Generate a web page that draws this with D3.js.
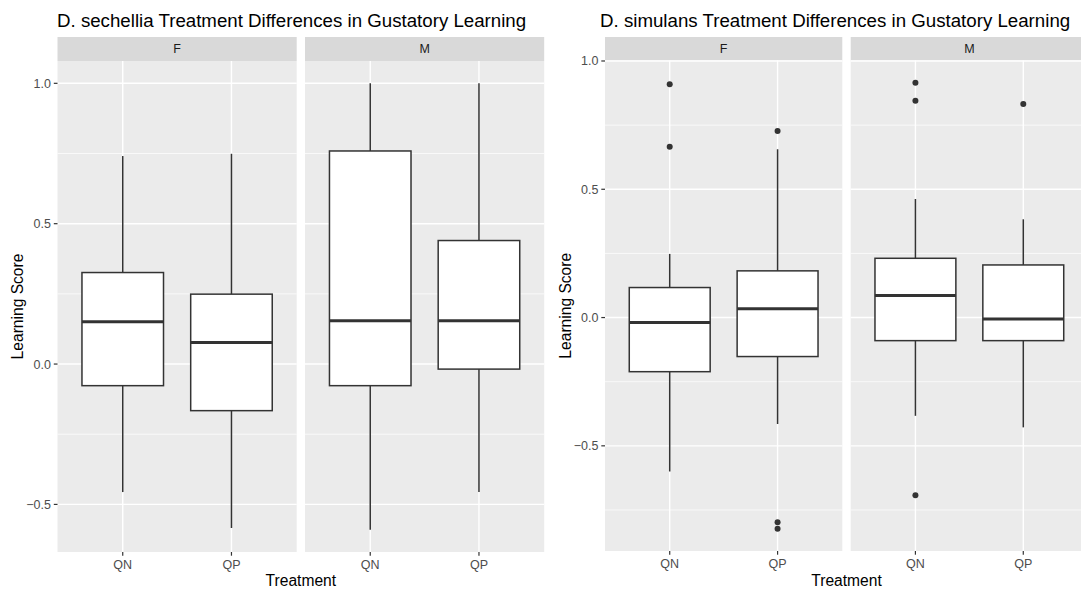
<!DOCTYPE html>
<html>
<head>
<meta charset="utf-8">
<script src="https://cdn.jsdelivr.net/npm/d3@7"></script>
<style>
  body { margin: 0; background: #fff; }
  svg { display: block; font-family: "Liberation Sans", Arial, Helvetica, sans-serif; }
</style>
</head>
<body>
<div id="chart"></div>
<script>
// facets / categories
const sexes = ['F', 'M']
const treatments = ['QN', 'QP']
// box order: F-QN, F-QP, M-QN, M-QP
const groups = [['F', 'QN'], ['F', 'QP'], ['M', 'QN'], ['M', 'QP']]

// D. sechellia box stats
const sechLow = [-0.456, -0.584, -0.590, -0.456]
const sechQ1 = [-0.077, -0.166, -0.077, -0.018]
const sechMedian = [0.151, 0.077, 0.154, 0.154]
const sechQ3 = [0.326, 0.249, 0.759, 0.440]
const sechHigh = [0.741, 0.749, 1.0, 1.0]
const sechOutliers = [[], [], [], []]

// D. simulans box stats
const simLow = [-0.600, -0.415, -0.383, -0.428]
const simQ1 = [-0.211, -0.152, -0.090, -0.090]
const simMedian = [-0.019, 0.034, 0.086, -0.006]
const simQ3 = [0.117, 0.182, 0.231, 0.205]
const simHigh = [0.248, 0.656, 0.462, 0.383]
const simOutliers = [[0.909, 0.666], [0.727, -0.798, -0.823], [0.915, 0.845, -0.693], [0.832]]

const yTicks = [-0.5, 0, 0.5, 1.0]
const yMinor = [-0.75, -0.25, 0.25, 0.75]

const width = 1081
const height = 589

const svg = d3.select('#chart')
  .append('svg')
  .attr('width', width)
  .attr('height', height)

function drawPlot(opt) {
  const stats = groups.map((g, i) => ({
    sex: g[0], trt: g[1],
    low: opt.low[i], q1: opt.q1[i], med: opt.med[i], q3: opt.q3[i], high: opt.high[i],
    out: opt.out[i]
  }))

  // y range with ggplot's 5% expansion
  const all = stats.flatMap(d => [d.low, d.high, ...d.out])
  const lo = d3.min(all), hi = d3.max(all)
  const pad = (hi - lo) * 0.05
  const y = d3.scaleLinear()
    .domain([lo - pad, hi + pad])
    .range([opt.bottom, opt.top])

  const g = svg.append('g')

  // title
  g.append('text')
    .text(opt.title)
    .attr('x', opt.titleX)
    .attr('y', 27)
    .style('font-size', '18.7px')
    .attr('fill', '#000')

  const panelW = (opt.right - opt.left - opt.gap) / 2

  sexes.forEach((sex, si) => {
    const px0 = opt.left + si * (panelW + opt.gap)
    const px1 = px0 + panelW
    const x = d3.scalePoint()
      .domain(treatments)
      .range([px0, px1])
      .padding(0.6)

    const p = g.append('g')

    // strip
    p.append('rect')
      .attr('x', px0).attr('y', 37)
      .attr('width', panelW).attr('height', opt.top - 37)
      .attr('fill', '#D9D9D9')
    p.append('text')
      .text(sex)
      .attr('x', (px0 + px1) / 2)
      .attr('y', 53)
      .attr('text-anchor', 'middle')
      .style('font-size', '12.5px')
      .attr('fill', '#1A1A1A')

    // panel background
    p.append('rect')
      .attr('x', px0).attr('y', opt.top)
      .attr('width', panelW).attr('height', opt.bottom - opt.top)
      .attr('fill', '#EBEBEB')

    const [d0, d1] = y.domain()
    p.selectAll('.minor')
      .data(yMinor.filter(v => v > d0 && v < d1))
      .enter().append('line')
      .attr('x1', px0).attr('x2', px1)
      .attr('y1', d => y(d)).attr('y2', d => y(d))
      .attr('stroke', '#fff').attr('stroke-width', 0.7)
    p.selectAll('.major')
      .data(yTicks)
      .enter().append('line')
      .attr('x1', px0).attr('x2', px1)
      .attr('y1', d => y(d)).attr('y2', d => y(d))
      .attr('stroke', '#fff').attr('stroke-width', 1.4)
    p.selectAll('.vgrid')
      .data(treatments)
      .enter().append('line')
      .attr('x1', d => x(d)).attr('x2', d => x(d))
      .attr('y1', opt.top).attr('y2', opt.bottom)
      .attr('stroke', '#fff').attr('stroke-width', 1.4)

    // x axis ticks + labels
    p.selectAll('.xtick')
      .data(treatments)
      .enter().append('line')
      .attr('x1', d => x(d)).attr('x2', d => x(d))
      .attr('y1', opt.bottom).attr('y2', opt.bottom + 3.7)
      .attr('stroke', '#333').attr('stroke-width', 1.2)
    p.selectAll('.xlab')
      .data(treatments)
      .enter().append('text')
      .text(d => d)
      .attr('x', d => x(d))
      .attr('y', opt.bottom + 17)
      .attr('text-anchor', 'middle')
      .style('font-size', '12.5px')
      .attr('fill', '#4D4D4D')

    // boxes
    const bw = x.step() * 0.75
    const boxes = p.selectAll('.box')
      .data(stats.filter(d => d.sex === sex))
      .enter().append('g')

    boxes.append('line')
      .attr('x1', d => x(d.trt)).attr('x2', d => x(d.trt))
      .attr('y1', d => y(d.high)).attr('y2', d => y(d.q3))
      .attr('stroke', '#333').attr('stroke-width', 1.5)
    boxes.append('line')
      .attr('x1', d => x(d.trt)).attr('x2', d => x(d.trt))
      .attr('y1', d => y(d.q1)).attr('y2', d => y(d.low))
      .attr('stroke', '#333').attr('stroke-width', 1.5)
    boxes.append('rect')
      .attr('x', d => x(d.trt) - bw / 2)
      .attr('y', d => y(d.q3))
      .attr('width', bw)
      .attr('height', d => y(d.q1) - y(d.q3))
      .attr('fill', '#fff')
      .attr('stroke', '#333').attr('stroke-width', 1.5)
    boxes.append('line')
      .attr('x1', d => x(d.trt) - bw / 2).attr('x2', d => x(d.trt) + bw / 2)
      .attr('y1', d => y(d.med)).attr('y2', d => y(d.med))
      .attr('stroke', '#333').attr('stroke-width', 3)
    boxes.selectAll('circle')
      .data(d => d.out.map(v => ({ trt: d.trt, v: v })))
      .enter().append('circle')
      .attr('cx', d => x(d.trt))
      .attr('cy', d => y(d.v))
      .attr('r', 3)
      .attr('fill', '#333')
  })

  // y axis
  g.selectAll('.ytick')
    .data(yTicks)
    .enter().append('line')
    .attr('x1', opt.left - 3.7).attr('x2', opt.left)
    .attr('y1', d => y(d)).attr('y2', d => y(d))
    .attr('stroke', '#333').attr('stroke-width', 1.2)
  g.selectAll('.ylab')
    .data(yTicks)
    .enter().append('text')
    .text(d => d3.format('.1f')(d))
    .attr('x', opt.left - 6.5)
    .attr('y', d => y(d))
    .attr('dy', '0.36em')
    .attr('text-anchor', 'end')
    .style('font-size', '12.5px')
    .attr('fill', '#4D4D4D')

  // axis titles
  g.append('text')
    .text('Treatment')
    .attr('x', (opt.left + opt.right) / 2)
    .attr('y', 586)
    .attr('text-anchor', 'middle')
    .style('font-size', '15.6px')
    .attr('fill', '#000')
  g.append('text')
    .text('Learning Score')
    .attr('transform', `translate(${opt.yTitleX}, ${(opt.top + opt.bottom) / 2}) rotate(-90)`)
    .attr('text-anchor', 'middle')
    .style('font-size', '15.6px')
    .attr('fill', '#000')
}

drawPlot({
  title: 'D. sechellia Treatment Differences in Gustatory Learning',
  titleX: 57,
  left: 57.5, right: 544.2, gap: 8.3,
  top: 61, bottom: 552,
  yTitleX: 23,
  low: sechLow, q1: sechQ1, med: sechMedian, q3: sechQ3, high: sechHigh, out: sechOutliers
})

drawPlot({
  title: 'D. simulans Treatment Differences in Gustatory Learning',
  titleX: 600,
  left: 605, right: 1088, gap: 8.4,
  top: 60.5, bottom: 551,
  yTitleX: 571,
  low: simLow, q1: simQ1, med: simMedian, q3: simQ3, high: simHigh, out: simOutliers
})
</script>
</body>
</html>
